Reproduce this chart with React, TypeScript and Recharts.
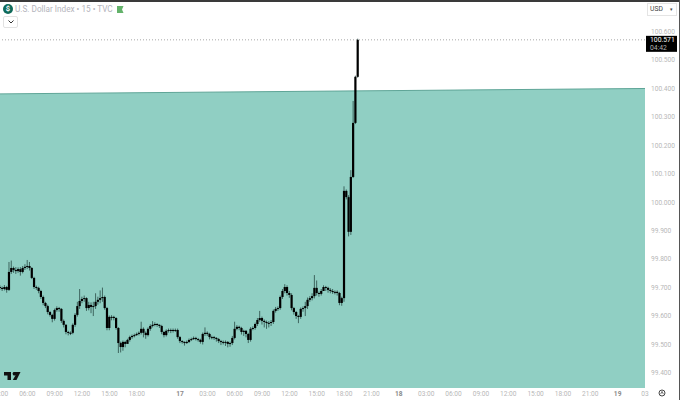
import { Area, Bar, ComposedChart, ReferenceLine, XAxis, YAxis } from "recharts";

const opens = [
  99.702, 99.699, 99.695, 99.702, 99.692, 99.755, 99.769, 99.762, 99.758, 99.765,
  99.755, 99.769, 99.773, 99.776, 99.769, 99.734, 99.702, 99.699, 99.688, 99.667,
  99.646, 99.635, 99.614, 99.604, 99.590, 99.621, 99.628, 99.625, 99.583, 99.569,
  99.544, 99.541, 99.541, 99.569, 99.604, 99.635, 99.653, 99.660, 99.663, 99.628,
  99.639, 99.632, 99.635, 99.650, 99.657, 99.663, 99.667, 99.628, 99.558, 99.597,
  99.597, 99.593, 99.558, 99.505, 99.491, 99.509, 99.502, 99.516, 99.526, 99.530,
  99.533, 99.537, 99.541, 99.555, 99.541, 99.533, 99.555, 99.565, 99.569, 99.572,
  99.569, 99.565, 99.544, 99.533, 99.548, 99.551, 99.548, 99.551, 99.551, 99.526,
  99.512, 99.509, 99.505, 99.509, 99.516, 99.519, 99.523, 99.519, 99.516, 99.509,
  99.537, 99.541, 99.537, 99.526, 99.526, 99.523, 99.519, 99.512, 99.509, 99.509,
  99.509, 99.502, 99.505, 99.523, 99.555, 99.562, 99.558, 99.544, 99.548, 99.537,
  99.516, 99.555, 99.558, 99.572, 99.586, 99.593, 99.583, 99.579, 99.576, 99.576,
  99.579, 99.618, 99.625, 99.628, 99.667, 99.688, 99.702, 99.681, 99.674, 99.628,
  99.614, 99.600, 99.597, 99.625, 99.628, 99.635, 99.657, 99.663, 99.670, 99.699,
  99.681, 99.678, 99.688, 99.702, 99.699, 99.692, 99.688, 99.685, 99.685, 99.681,
  99.646, 99.663, 100.040, 100.018, 99.896, 100.089, 100.279, 100.441,
];
const highs = [
  99.708, 99.704, 99.709, 99.706, 99.790, 99.795, 99.774, 99.772, 99.771, 99.772,
  99.776, 99.782, 99.797, 99.790, 99.772, 99.738, 99.707, 99.703, 99.692, 99.672,
  99.650, 99.640, 99.618, 99.608, 99.626, 99.634, 99.632, 99.628, 99.588, 99.572,
  99.548, 99.546, 99.574, 99.610, 99.650, 99.695, 99.668, 99.672, 99.666, 99.650,
  99.648, 99.650, 99.680, 99.668, 99.690, 99.700, 99.672, 99.632, 99.602, 99.603,
  99.601, 99.596, 99.561, 99.510, 99.514, 99.513, 99.520, 99.531, 99.535, 99.538,
  99.542, 99.546, 99.580, 99.560, 99.546, 99.560, 99.571, 99.582, 99.578, 99.575,
  99.571, 99.569, 99.548, 99.553, 99.556, 99.556, 99.556, 99.556, 99.556, 99.530,
  99.515, 99.511, 99.514, 99.521, 99.524, 99.528, 99.527, 99.523, 99.520, 99.542,
  99.560, 99.546, 99.541, 99.531, 99.530, 99.526, 99.523, 99.516, 99.514, 99.514,
  99.512, 99.510, 99.530, 99.580, 99.568, 99.566, 99.562, 99.552, 99.551, 99.541,
  99.561, 99.564, 99.577, 99.593, 99.618, 99.598, 99.588, 99.584, 99.582, 99.586,
  99.623, 99.632, 99.634, 99.672, 99.695, 99.712, 99.708, 99.688, 99.680, 99.632,
  99.618, 99.604, 99.630, 99.634, 99.650, 99.665, 99.670, 99.680, 99.744, 99.725,
  99.686, 99.695, 99.708, 99.706, 99.703, 99.698, 99.695, 99.690, 99.690, 99.685,
  99.668, 100.056, 100.045, 100.025, 100.113, 100.356, 100.445, 100.575,
];
const lows = [
  99.692, 99.688, 99.690, 99.682, 99.688, 99.748, 99.752, 99.748, 99.752, 99.742,
  99.750, 99.762, 99.765, 99.760, 99.730, 99.695, 99.692, 99.680, 99.660, 99.638,
  99.628, 99.606, 99.598, 99.578, 99.584, 99.615, 99.615, 99.576, 99.560, 99.536,
  99.532, 99.533, 99.536, 99.562, 99.598, 99.625, 99.645, 99.650, 99.618, 99.620,
  99.610, 99.600, 99.625, 99.640, 99.645, 99.650, 99.622, 99.550, 99.550, 99.585,
  99.585, 99.552, 99.470, 99.472, 99.478, 99.490, 99.505, 99.510, 99.520, 99.525,
  99.530, 99.532, 99.535, 99.525, 99.520, 99.528, 99.548, 99.560, 99.564, 99.562,
  99.558, 99.536, 99.525, 99.528, 99.542, 99.540, 99.542, 99.544, 99.520, 99.505,
  99.503, 99.496, 99.502, 99.505, 99.512, 99.516, 99.514, 99.510, 99.503, 99.500,
  99.530, 99.530, 99.518, 99.518, 99.516, 99.510, 99.505, 99.498, 99.500, 99.495,
  99.490, 99.492, 99.498, 99.518, 99.550, 99.550, 99.535, 99.530, 99.525, 99.505,
  99.510, 99.550, 99.552, 99.565, 99.580, 99.570, 99.560, 99.555, 99.560, 99.565,
  99.572, 99.612, 99.618, 99.622, 99.660, 99.680, 99.672, 99.664, 99.620, 99.605,
  99.590, 99.575, 99.590, 99.615, 99.600, 99.625, 99.650, 99.655, 99.662, 99.672,
  99.668, 99.672, 99.688, 99.688, 99.682, 99.680, 99.678, 99.676, 99.672, 99.638,
  99.636, 99.650, 100.010, 99.880, 99.885, 100.085, 100.275, 100.438,
];
const closes = [
  99.699, 99.695, 99.702, 99.692, 99.755, 99.769, 99.762, 99.758, 99.765, 99.755,
  99.769, 99.773, 99.776, 99.769, 99.734, 99.702, 99.699, 99.688, 99.667, 99.646,
  99.635, 99.614, 99.604, 99.590, 99.621, 99.628, 99.625, 99.583, 99.569, 99.544,
  99.541, 99.541, 99.569, 99.604, 99.635, 99.653, 99.660, 99.663, 99.628, 99.639,
  99.632, 99.635, 99.650, 99.657, 99.663, 99.667, 99.628, 99.558, 99.597, 99.597,
  99.593, 99.558, 99.505, 99.491, 99.509, 99.502, 99.516, 99.526, 99.530, 99.533,
  99.537, 99.541, 99.555, 99.541, 99.533, 99.555, 99.565, 99.569, 99.572, 99.569,
  99.565, 99.544, 99.533, 99.548, 99.551, 99.548, 99.551, 99.551, 99.526, 99.512,
  99.509, 99.505, 99.509, 99.516, 99.519, 99.523, 99.519, 99.516, 99.509, 99.537,
  99.541, 99.537, 99.526, 99.526, 99.523, 99.519, 99.512, 99.509, 99.509, 99.509,
  99.502, 99.505, 99.523, 99.555, 99.562, 99.558, 99.544, 99.548, 99.537, 99.516,
  99.555, 99.558, 99.572, 99.586, 99.593, 99.583, 99.579, 99.576, 99.576, 99.579,
  99.618, 99.625, 99.628, 99.667, 99.688, 99.702, 99.681, 99.674, 99.628, 99.614,
  99.600, 99.597, 99.625, 99.628, 99.635, 99.657, 99.663, 99.670, 99.699, 99.681,
  99.678, 99.688, 99.702, 99.699, 99.692, 99.688, 99.685, 99.685, 99.681, 99.646,
  99.663, 100.040, 100.018, 99.896, 100.089, 100.279, 100.441, 100.571,
];

// the shaded zone has one straight top edge, so it only needs its two ends
const zoneSlots = [0, 283];
const zoneTops = [100.381, 100.4];

const priceTicks = [99.4, 99.5, 99.6, 99.7, 99.8, 99.9, 100, 100.1, 100.2, 100.3, 100.4, 100.5, 100.6];
const timeSlots = [0, 12, 24, 36, 48, 60, 79, 91, 103, 115, 127, 139, 151, 163, 175, 187, 199, 211, 223, 235, 247, 259, 271, 283];
const timeLabels = ["03:00", "06:00", "09:00", "12:00", "15:00", "18:00", "17", "03:00", "06:00", "09:00", "12:00", "15:00", "18:00", "21:00", "18", "03:00", "06:00", "09:00", "12:00", "15:00", "18:00", "21:00", "19", "03"];
const dayLabels = ["17", "18", "19"];
const lastPrice = 100.571;

const chartData: any[] = closes.map((close, slot) => ({
  slot,
  open: opens[slot],
  close,
  high: highs[slot],
  low: lows[slot],
  range: [lows[slot], highs[slot]],
  zone: slot === zoneSlots[0] ? zoneTops[0] : null,
}));
chartData.push({ slot: zoneSlots[1], zone: zoneTops[1] });

const font = "Roboto, sans-serif";

function Candle(props: any) {
  const { x, y, width, height, payload } = props;
  if (!payload || payload.high == null) return null;
  const perUnit = height / (payload.high - payload.low);
  const top = y + (payload.high - Math.max(payload.open, payload.close)) * perUnit;
  const bottom = y + (payload.high - Math.min(payload.open, payload.close)) * perUnit;
  const mid = x + width / 2;
  return (
    <g>
      <line x1={mid} x2={mid} y1={y} y2={y + height} stroke="#2a4a45" strokeWidth={0.8} />
      <rect x={mid - 1.1} y={top} width={2.2} height={Math.max(bottom - top, 1)} fill="#000000" />
    </g>
  );
}

function TimeTick({ x, y, payload }: any) {
  const label = timeLabels[timeSlots.indexOf(payload.value)];
  const isDay = dayLabels.includes(label);
  return (
    <text x={x} y={y} textAnchor="middle" fontFamily={font} fontSize={6.6} fontWeight={isDay ? 700 : 400} fill={isDay ? "#8a8a8a" : "#b8b8b8"}>
      {label}
    </text>
  );
}

function PriceTag({ viewBox }: any) {
  const y = viewBox.y;
  return (
    <g fontFamily={font} fontSize={6.8}>
      <rect x={646} y={y - 4} width={31} height={16} fill="#000000" />
      <text x={650} y={y + 2.5} fill="#ffffff">{lastPrice.toFixed(3)}</text>
      <text x={650} y={y + 10} fill="#b0b0b0">04:42</text>
    </g>
  );
}

export default function App() {
  return (
    <div style={{ position: "absolute", left: 0, top: 0, width: 680, height: 400, background: "#ffffff", overflow: "hidden" }}>
      <ComposedChart width={680} height={400} data={chartData} margin={{ top: 3, right: 0, bottom: 0, left: 0 }}>
        <XAxis
          dataKey="slot"
          type="number"
          domain={[0, 283]}
          ticks={timeSlots}
          interval={0}
          height={12}
          axisLine={false}
          tickLine={false}
          tick={<TimeTick />}
        />
        <YAxis
          orientation="right"
          width={35}
          domain={[99.347, 100.7005]}
          ticks={priceTicks}
          interval={0}
          axisLine={false}
          tickLine={false}
          tickMargin={0}
          tickFormatter={(value: number) => value.toFixed(3)}
          tick={{ fill: "#b8b8b8", fontSize: 6.6, fontFamily: font }}
        />
        <Area dataKey="zone" type="linear" connectNulls stroke="#5fa597" strokeWidth={1} fill="#90cfc3" fillOpacity={1} dot={false} activeDot={false} isAnimationActive={false} />
        <ReferenceLine y={lastPrice} stroke="#a8a8a8" strokeDasharray="1 2" label={<PriceTag />} />
        <Bar dataKey="range" barSize={2} shape={<Candle />} isAnimationActive={false} />
      </ComposedChart>

      <div style={{ position: "absolute", left: 0, top: 0, width: 680, height: 2, background: "#3a3a3a" }} />
      <div style={{ position: "absolute", left: 679, top: 0, width: 1, height: 400, background: "#555555" }} />

      <div style={{ position: "absolute", left: 3, top: 4, width: 10, height: 10, borderRadius: 5, background: "#0f6a5a", color: "#ffffff", fontFamily: font, fontSize: 7.5, fontWeight: 700, lineHeight: "10px", textAlign: "center" }}>$</div>
      <div style={{ position: "absolute", left: 15, top: 4, fontFamily: font, fontSize: 8.2, lineHeight: "10px", color: "#b4b4bc", whiteSpace: "nowrap" }}>U.S. Dollar Index • 15 • TVC</div>
      <svg style={{ position: "absolute", left: 117, top: 6 }} width={7} height={7}>
        <path d="M0 0H6.5L5 3.5L6.5 7H0Z" fill="#63b26a" />
      </svg>
      <div style={{ position: "absolute", left: 3, top: 16, width: 13, height: 10, border: "1px solid #e2e2e2", borderRadius: 2 }}>
        <svg style={{ position: "absolute", left: 4, top: 3 }} width={6} height={4}>
          <path d="M0.5 0.5L3 3L5.5 0.5" fill="none" stroke="#333333" strokeWidth={1} />
        </svg>
      </div>

      <div style={{ position: "absolute", left: 647, top: 3, width: 30, height: 13, border: "1px solid #e4e4e4", boxSizing: "border-box", fontFamily: font, fontSize: 6.8, lineHeight: "11px", color: "#444444", paddingLeft: 2, whiteSpace: "nowrap" }}>
        USD
        <span style={{ position: "absolute", right: 3, top: 0, fontSize: 5 }}>▾</span>
      </div>

      <svg style={{ position: "absolute", left: 4, top: 372 }} width={17} height={9}>
        <path d="M0 0H7V8H3.5V3.4H0Z M9.5 0H16.5L12.5 8H8.8L11.6 3.2A1.6 1.6 0 1 1 9.5 0Z" fill="#111111" />
      </svg>
      <svg style={{ position: "absolute", left: 658, top: 389 }} width={8} height={8}>
        <circle cx={4} cy={4} r={3} fill="none" stroke="#333333" strokeWidth={0.9} />
        <path d="M2.6 5.2L4 2.4L5.4 5.2" fill="none" stroke="#333333" strokeWidth={0.7} />
      </svg>
    </div>
  );
}
